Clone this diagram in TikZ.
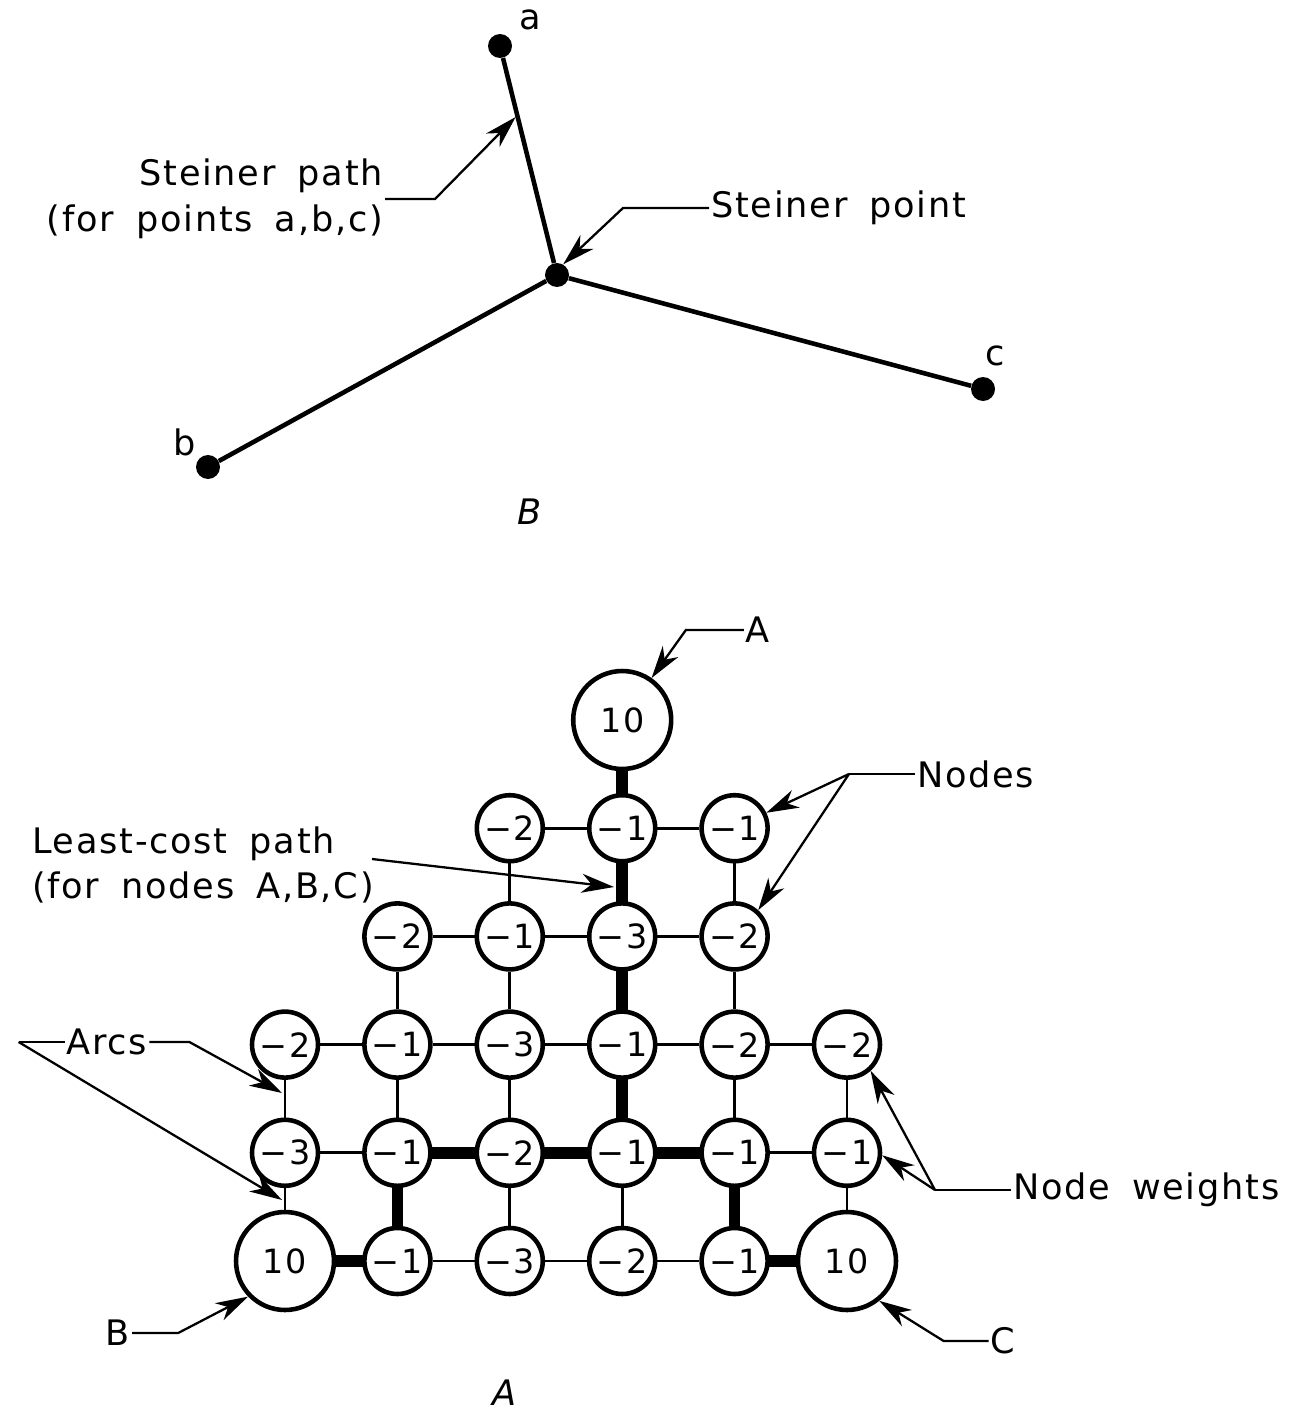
\documentclass[tikz,border=0pt]{standalone}
\usepackage{fontspec}
\setmainfont{DejaVu Sans}[LetterSpace=5,WordSpace=1.7]
\usetikzlibrary{arrows.meta,calc}

\newcommand\lblfont{\fontsize{20}{26}\selectfont}
\newcommand\wtfont{\fontsize{19}{22}\selectfont}

\begin{document}
\begin{tikzpicture}[x=0.02cm,y=-0.02cm,
  wt/.style={circle,draw,line width=2.6pt,fill=white,minimum size=1.32cm,inner sep=0pt,font=\wtfont},
  big/.style={wt,minimum size=1.96cm},
  link/.style={line width=1.5pt},
  hot/.style={line width=6.5pt,shorten <=-1pt,shorten >=-1pt},
  dot/.style={circle,fill,inner sep=0pt,minimum size=0.48cm},
  steiner/.style={line width=2.6pt},
  tag/.style={inner sep=1pt,font=\lblfont},
  lead/.style={line width=1.3pt},
  pointer/.style={line width=1.3pt,-{Stealth[length=6.5mm,width=3.8mm,inset=2mm]}}]
\useasboundingbox (0,0) rectangle (1288,1416);

% B: Steiner path
\node[dot] (a) at (500,46) {};
\node[dot] (s) at (557,275) {};
\node[dot] (b) at (208,467) {};
\node[dot] (c) at (983,389) {};
\draw[steiner] (a) -- (s);
\draw[steiner] (s) -- (b);
\draw[steiner] (s) -- (c);
\node[tag] (la) at (530,20) {a};
\node[tag] (lb) at (185,442) {b};
\node[tag] (lc) at (995,356) {c};

\node[tag,anchor=east,align=right] (spath) at (385,199) {Steiner path\\(for points a,b,c)};
\coordinate (sp) at ($(a)!0.31!(s)+(-2,0)$);
\draw[pointer] (spath.east) -- ++(50,0) -- (sp);
\node[tag,anchor=west] (spoint) at (709,208) {Steiner point};
\draw[pointer] (spoint.west) -- ++(-86,0) -- (s.60);
\node[tag,font=\lblfont\itshape] (capb) at (530,512) {B};

% A: node weights
\foreach \c/\r/\w in {2/1/−2,3/1/−1,4/1/−1,
  1/2/−2,2/2/−1,3/2/−3,4/2/−2,
  0/3/−2,1/3/−1,2/3/−3,3/3/−1,4/3/−2,5/3/−2,
  0/4/−3,1/4/−1,2/4/−2,3/4/−1,4/4/−1,5/4/−1,
  1/5/−1,2/5/−3,3/5/−2,4/5/−1}
  \node[wt] (n\c\r) at ({285+112.4*\c},{720+108.2*\r}) {\w};
\foreach \c/\r in {3/0,0/5,5/5}
  \node[big] (n\c\r) at ({285+112.4*\c},{720+108.2*\r}) {10};

% arcs
\foreach \p/\q in {21/31,31/41,12/22,22/32,32/42,03/13,13/23,23/33,33/43,43/53,
  04/14,44/54,15/25,25/35,35/45,
  21/22,41/42,12/13,22/23,42/43,03/04,13/14,23/24,43/44,53/54,
  04/05,24/25,34/35,54/55}
  \draw[link] (n\p) -- (n\q);
\foreach \p/\q in {30/31,31/32,32/33,33/34,14/24,24/34,34/44,05/15,45/55,14/15,44/45}
  \draw[hot] (n\p) -- (n\q);

% Labels
\node[tag] (ta) at (758,630) {A};
\draw[pointer] (ta.west) -- ++(-58,0) -- (n30.55);
\node[tag] (tb) at (118,1333) {B};
\draw[pointer] (tb.east) -- ++(46,0) -- (n05.224);
\node[tag] (tc) at (1003,1341) {C};
\draw[pointer] (tc.west) -- ++(-45,0) -- (n55.-51);

\node[tag,anchor=west] (nodes) at (915,774) {Nodes};
\draw[lead] (nodes.west) -- ++(-66,0) coordinate (ndk);
\draw[pointer] (ndk) -- (n41.26);
\draw[pointer] (ndk) -- (n42.48);

\node[tag,anchor=west,align=left] (lcost) at (30,865) {Least-cost path\\(for nodes A,B,C)};
\coordinate (lct) at (614,887);
\draw[pointer] ($(lcost.east)+(-4,-6)$) -- (lct);

\node[tag] (arcs) at (107,1042) {Arcs};
\coordinate (arc1) at (282,1093);
\coordinate (arc2) at (282,1200);
\draw[lead] (arcs.west) -- ++(-46,0) coordinate (ark);
\draw[pointer] (ark) -- (arc2);
\draw[pointer] (arcs.east) -- ++(40,0) -- (arc1);

\node[tag,anchor=west] (nw) at (1011,1190) {Node weights};
\draw[lead] (nw.west) -- ++(-76,0) coordinate (nwk);
\draw[pointer] (nwk) -- (n53.-48);
\draw[pointer] (nwk) -- (n54.-4);

\node[tag,font=\lblfont\itshape] (capa) at (505,1393) {A};
\end{tikzpicture}
\end{document}
